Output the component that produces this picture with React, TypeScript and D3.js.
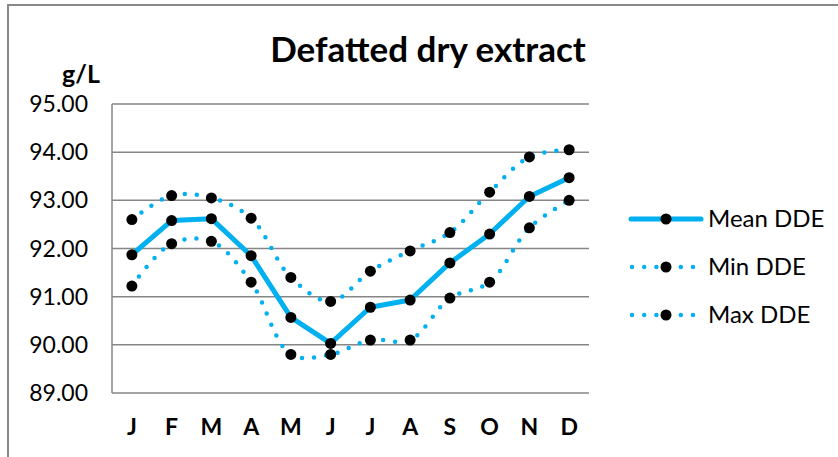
import React from "react";
import * as d3 from "d3";

const months = ["J", "F", "M", "A", "M", "J", "J", "A", "S", "O", "N", "D"];
const meanDDE = [91.87, 92.58, 92.62, 91.85, 90.57, 90.03, 90.78, 90.93, 91.70, 92.30, 93.08, 93.47];
const minDDE = [91.22, 92.10, 92.15, 91.30, 89.80, 89.80, 90.10, 90.10, 90.97, 91.30, 92.43, 93.00];
const maxDDE = [92.60, 93.10, 93.05, 92.63, 91.40, 90.90, 91.53, 91.95, 92.33, 93.17, 93.90, 94.05];
const yTicks = [89, 90, 91, 92, 93, 94, 95];
const seriesNames = ["Mean DDE", "Min DDE", "Max DDE"];

const W = 838;
const H = 457;
const BLUE = "#00B0F0";
const GRID = "#868686";
const FONT = "Lato, 'Open Sans', sans-serif";

export default function App() {
  const idx = months.map((_, i) => i);
  const x = d3.scalePoint<number>().domain(idx).range([112, 589]).padding(0.5);
  const y = d3.scaleLinear().domain([89, 95]).range([393, 104]);

  const straight = d3
    .line<number>()
    .x((_, i) => x(i) as number)
    .y((d) => y(d));
  const smooth = d3
    .line<number>()
    .x((_, i) => x(i) as number)
    .y((d) => y(d))
    .curve(d3.curveCatmullRom.alpha(0.5));

  const series = [
    { name: seriesNames[0], values: meanDDE, dotted: false },
    { name: seriesNames[1], values: minDDE, dotted: true },
    { name: seriesNames[2], values: maxDDE, dotted: true },
  ];

  const legendY = [219, 267, 315];

  return (
    <svg
      width={W}
      height={H}
      style={{ position: "absolute", left: 0, top: 0, background: "#fff" }}
      fontFamily={FONT}
    >
      <rect x={0} y={0} width={W} height={H} fill="#fff" />
      {/* outer frame */}
      <path d={`M8,${H} L8,5 L${W},5`} fill="none" stroke="#898989" strokeWidth={2} />

      {/* title */}
      <text x={428} y={62} textAnchor="middle" fontSize={35} fontWeight="bold" fill="#000">
        Defatted dry extract
      </text>
      <text x={81} y={83} textAnchor="middle" fontSize={25} fontWeight="bold" fill="#000">
        g/L
      </text>

      {/* gridlines */}
      {yTicks.map((t) => (
        <line key={t} x1={112} x2={589} y1={y(t)} y2={y(t)} stroke={GRID} strokeWidth={1.5} />
      ))}
      <line x1={112} x2={112} y1={y(95)} y2={y(89)} stroke={GRID} strokeWidth={1.5} />

      {/* y labels */}
      {yTicks.map((t) => (
        <text key={t} x={88} y={y(t)} dy="0.35em" textAnchor="end" fontSize={23} fill="#000">
          {t.toFixed(2)}
        </text>
      ))}

      {/* x labels */}
      {months.map((m, i) => (
        <text key={i} x={x(i) as number} y={435} textAnchor="middle" fontSize={23} fontWeight="bold" fill="#000">
          {m}
        </text>
      ))}

      {/* series */}
      {series.map((s) => (
        <g key={s.name}>
          <path
            d={(s.dotted ? smooth(s.values) : straight(s.values)) || ""}
            fill="none"
            stroke={BLUE}
            strokeWidth={s.dotted ? 4.5 : 5}
            strokeLinecap="round"
            strokeLinejoin="round"
            strokeDasharray={s.dotted ? "0 12" : undefined}
          />
          {s.values.map((v, i) => (
            <circle key={i} cx={x(i) as number} cy={y(v)} r={5.5} fill="#000" />
          ))}
        </g>
      ))}

      {/* legend */}
      {series.map((s, k) => (
        <g key={s.name}>
          <line
            x1={s.dotted ? 632 : 631}
            x2={s.dotted ? 700 : 701}
            y1={legendY[k]}
            y2={legendY[k]}
            stroke={BLUE}
            strokeWidth={s.dotted ? 4.5 : 5}
            strokeLinecap="round"
            strokeDasharray={s.dotted ? "0 12.2" : undefined}
          />
          <circle cx={666} cy={legendY[k]} r={5.5} fill="#000" />
          <text x={708} y={legendY[k]} dy="0.35em" fontSize={24} fill="#000">
            {s.name}
          </text>
        </g>
      ))}
    </svg>
  );
}
